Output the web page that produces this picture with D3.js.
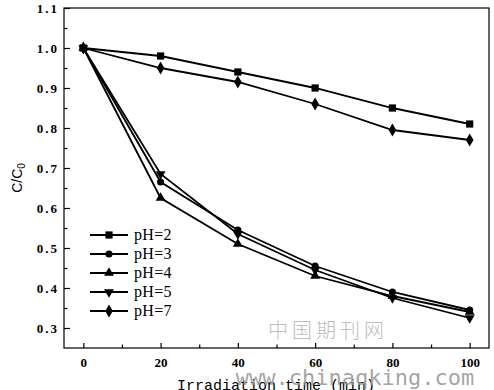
<!DOCTYPE html>
<html><head><meta charset="utf-8">
<script src="https://cdn.jsdelivr.net/npm/d3@7"></script>
<style>body{margin:0;background:#fff;} svg{display:block;}</style>
</head><body>
<script>
const times = [0, 20, 40, 60, 80, 100];
const pH2 = [1.0, 0.98, 0.94, 0.90, 0.85, 0.81];
const pH3 = [1.0, 0.665, 0.545, 0.455, 0.39, 0.345];
const pH4 = [1.0, 0.625, 0.51, 0.43, 0.38, 0.34];
const pH5 = [1.0, 0.685, 0.535, 0.445, 0.375, 0.325];
const pH7 = [1.0, 0.95, 0.915, 0.86, 0.795, 0.77];
const seriesNames = ["pH=2", "pH=3", "pH=4", "pH=5", "pH=7"];
const seriesSymbols = ["square", "circle", "triangle", "tridown", "diamond"];
const xTicks = [0, 20, 40, 60, 80, 100];
const yTicks = [0.3, 0.4, 0.5, 0.6, 0.7, 0.8, 0.9, 1.0, 1.1];

const W = 494, H = 390;
const L = 64, R = 489, T = 8, B = 348;
const svg = d3.select("body").append("svg").attr("width", W).attr("height", H);

const x = d3.scaleLinear().domain([-5, 105]).range([L, R]);
const y = d3.scaleLinear().domain([0.25, 1.1]).range([B, T]);

// watermark (behind)
svg.append("text").attr("x", 328).attr("y", 338).attr("text-anchor", "middle")
  .attr("font-family", "Noto Sans CJK SC").attr("font-size", 20).attr("font-weight", 300)
  .attr("letter-spacing", 4).attr("fill", "#bdbdbd").text("中国期刊网");

// frame
svg.append("rect").attr("x", L).attr("y", T).attr("width", R - L).attr("height", B - T)
  .attr("fill", "none").attr("stroke", "#000").attr("stroke-width", 1.2);

// axes
const fontTick = "Liberation Serif";
const yAxis = svg.append("g").attr("transform", `translate(${L},0)`)
  .call(d3.axisLeft(y).tickValues(yTicks).tickFormat(d3.format(".1f")).tickSizeInner(-6).tickSizeOuter(0).tickPadding(5));
yAxis.select(".domain").remove();
yAxis.selectAll("text").attr("font-family", fontTick).attr("font-weight", "bold").attr("font-size", 13)
  .attr("letter-spacing", 2).attr("fill", "#000");
yAxis.selectAll("line").attr("stroke-width", 1.2);
const yMinor = svg.append("g").attr("transform", `translate(${L},0)`)
  .call(d3.axisLeft(y).tickValues([0.35, 0.45, 0.55, 0.65, 0.75, 0.85, 0.95, 1.05]).tickFormat("").tickSizeInner(-3.5).tickSizeOuter(0));
yMinor.select(".domain").remove();
yMinor.selectAll("line").attr("stroke-width", 1.2);

const xAxis = svg.append("g").attr("transform", `translate(0,${B})`)
  .call(d3.axisBottom(x).tickValues(xTicks).tickSizeInner(-5).tickSizeOuter(0).tickPadding(10));
xAxis.select(".domain").remove();
xAxis.selectAll("text").attr("font-family", fontTick).attr("font-weight", "bold").attr("font-size", 13).attr("fill", "#000");
xAxis.selectAll("line").attr("stroke-width", 1.2);
const xMinor = svg.append("g").attr("transform", `translate(0,${B})`)
  .call(d3.axisBottom(x).tickValues([10, 30, 50, 70, 90]).tickFormat("").tickSizeInner(-3.5).tickSizeOuter(0));
xMinor.select(".domain").remove();
xMinor.selectAll("line").attr("stroke-width", 1.2);

// axis titles
const yt = svg.append("text").attr("transform", "translate(22,178) rotate(-90)").attr("text-anchor", "middle")
  .attr("font-family", "Liberation Sans").attr("font-size", 14).attr("fill", "#000");
yt.append("tspan").text("C/C");
yt.append("tspan").attr("font-size", 10).attr("dy", 3).text("0");

svg.append("text").attr("x", 276).attr("y", 390).attr("text-anchor", "middle")
  .attr("font-family", "Liberation Mono").attr("font-size", 15).attr("fill", "#000")
  .text("Irradiation time (min)");

// series
const data = [pH2, pH3, pH4, pH5, pH7];
const symMap = {
  square: d3.symbol().type(d3.symbolSquare).size(52),
  circle: d3.symbol().type(d3.symbolCircle).size(40),
  triangle: d3.symbol().type(d3.symbolTriangle).size(42),
  tridown: d3.symbol().type(d3.symbolTriangle).size(42),
  diamond: d3.symbol().type(d3.symbolDiamond).size(50)
};
const line = d3.line().x((d, i) => x(times[i])).y(d => y(d));
data.forEach((vals, si) => {
  svg.append("path").attr("d", line(vals)).attr("fill", "none").attr("stroke", "#000").attr("stroke-width", 1.8);
  const sym = seriesSymbols[si];
  svg.selectAll(null).data(vals).enter().append("path")
    .attr("d", symMap[sym])
    .attr("transform", (d, i) => `translate(${x(times[i])},${y(d)})${sym === "tridown" ? " rotate(180)" : ""}`)
    .attr("fill", "#000");
});

// legend
const lg = svg.append("g");
seriesNames.forEach((name, i) => {
  const yy = 235 + i * 19;
  lg.append("line").attr("x1", 90).attr("x2", 128).attr("y1", yy).attr("y2", yy).attr("stroke", "#000").attr("stroke-width", 1.8);
  const sym = seriesSymbols[i];
  lg.append("path").attr("d", symMap[sym]).attr("transform", `translate(109,${yy})${sym === "tridown" ? " rotate(180)" : ""}`).attr("fill", "#000");
  lg.append("text").attr("x", 134).attr("y", yy + 5).attr("font-family", "Liberation Serif").attr("font-size", 16)
    .attr("letter-spacing", 0.3).attr("fill", "#000").text(name);
});

// url watermark (on top)
svg.append("text").attr("x", 355).attr("y", 385).attr("text-anchor", "middle")
  .attr("font-family", "DejaVu Sans Mono").attr("font-size", 22).attr("fill", "#9a9a9a").attr("fill-opacity", 0.9)
  .text("www.chinaqking.com");
</script>
</body></html>
